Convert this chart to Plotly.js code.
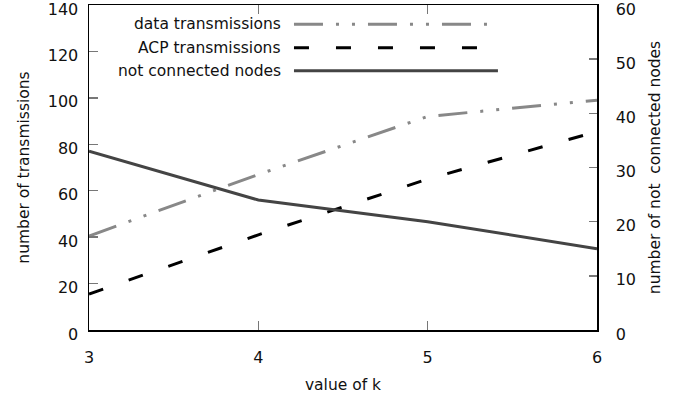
<!DOCTYPE html>
<html>
<head>
<meta charset="utf-8">
<script src="https://cdn.plot.ly/plotly-3.0.1.min.js"></script>
<style>html,body{margin:0;padding:0;background:#fff;}#chart{width:689px;height:404px;}</style>
</head>
<body>
<div id="chart"></div>
<script>
const k = [3, 4, 5, 6];
const dataTransmissions = [40.5, 67, 92, 99];
const acpTransmissions = [15.5, 41, 65, 85.5];
const notConnectedNodes = [33, 24, 20, 15];
const leftTicks = [0, 20, 40, 60, 80, 100, 120, 140];
const rightTicks = [0, 10, 20, 30, 40, 50, 60];
const seriesNames = ['data transmissions', 'ACP transmissions', 'not connected nodes'];
const seriesColors = ['#888888', '#000000', '#444444'];
const seriesDash = ['29px,13px,3px,13px,3px,13px', '15px,27px', 'solid'];

const FONT = 'DejaVu Sans, Verdana, sans-serif';

const traces = [
  {x: k, y: dataTransmissions, name: seriesNames[0], mode: 'lines', yaxis: 'y',
   line: {color: seriesColors[0], width: 3, dash: seriesDash[0]}},
  {x: k, y: acpTransmissions, name: seriesNames[1], mode: 'lines', yaxis: 'y',
   line: {color: seriesColors[1], width: 3, dash: seriesDash[1]}},
  {x: k, y: notConnectedNodes, name: seriesNames[2], mode: 'lines', yaxis: 'y2',
   line: {color: seriesColors[2], width: 3, dash: seriesDash[2]}}
];

// legend (gnuplot style: text left of sample)
const rowY = [0.9406, 0.8686, 0.7978];
const shapes = [];
const annotations = [];
for (let i = 0; i < 3; i++) {
  shapes.push({type: 'line', xref: 'paper', yref: 'paper', x0: 0.4035, x1: 0.805, y0: rowY[i], y1: rowY[i],
    line: {color: seriesColors[i], width: 3, dash: seriesDash[i]}});
  annotations.push({xref: 'paper', yref: 'paper', x: 0.382, y: rowY[i], xanchor: 'right', yanchor: 'middle',
    text: seriesNames[i], showarrow: false, font: {family: FONT, size: 15.5, color: '#111'}});
}

const layout = {
  width: 689, height: 404,
  margin: {l: 89, r: 92, t: 5, b: 74},
  paper_bgcolor: '#fff', plot_bgcolor: '#fff',
  showlegend: false,
  font: {family: FONT, size: 16, color: '#111'},
  xaxis: {
    range: [3, 6], tickvals: k, ticktext: k.map(String),
    ticks: 'inside', ticklen: 9, tickcolor: '#777', tickwidth: 1.5,
    showline: true, linecolor: '#000', linewidth: 1.5, mirror: 'ticks',
    showgrid: false, zeroline: false, ticklabelstandoff: 12, ticklabeloverflow: 'allow',
    title: {text: 'value of k', standoff: 13, font: {family: FONT, size: 15.5}}
  },
  yaxis: {
    range: [0, 140], tickvals: leftTicks, ticktext: leftTicks.map(String),
    ticks: 'inside', ticklen: 9, tickcolor: '#777', tickwidth: 1.5,
    showline: true, linecolor: '#000', linewidth: 1.5,
    showgrid: false, zeroline: false, ticklabelstandoff: 6, ticklabeloverflow: 'allow',
    ticklabelshift: 4,
    title: {text: 'number of transmissions', standoff: 14, font: {family: FONT, size: 15.5}}
  },
  yaxis2: {
    overlaying: 'y', side: 'right', range: [0, 60], tickvals: rightTicks, ticktext: rightTicks.map(String),
    ticks: 'inside', ticklen: 8, tickcolor: '#777', tickwidth: 1.5,
    showline: true, linecolor: '#000', linewidth: 1.5,
    showgrid: false, zeroline: false, ticklabelstandoff: 14, ticklabeloverflow: 'allow',
    ticklabelshift: 4,
    title: {text: 'number of not  connected nodes', standoff: 14, font: {family: FONT, size: 15.5}}
  },
  shapes: shapes,
  annotations: annotations
};

Plotly.newPlot('chart', traces, layout, {staticPlot: true, displayModeBar: false});
</script>
</body>
</html>
